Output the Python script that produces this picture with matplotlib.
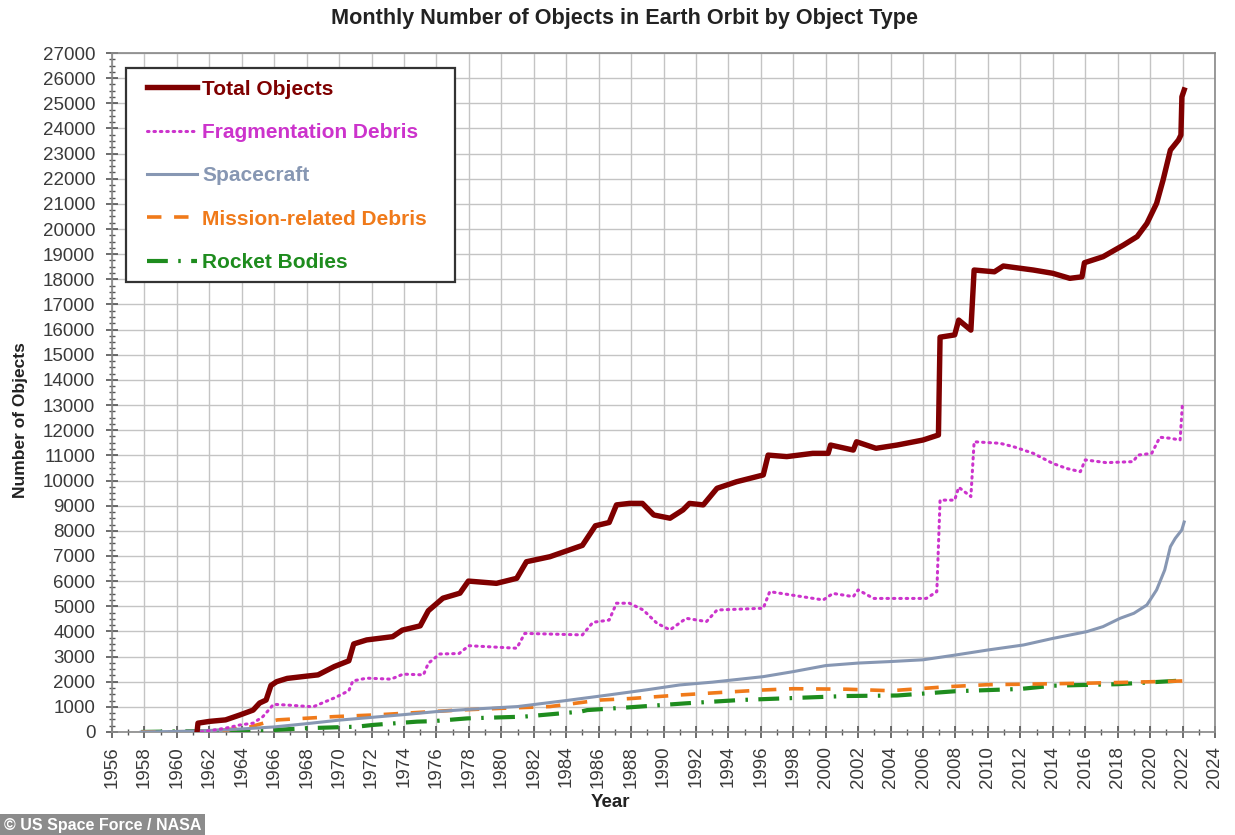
import matplotlib
matplotlib.use('Agg')
import matplotlib.pyplot as plt
from matplotlib.ticker import MultipleLocator
from matplotlib.patches import Rectangle

plt.rcParams['font.family'] = ['Liberation Sans', 'DejaVu Sans']

# Total objects
tot_year = [1961.25, 1961.3, 1962.0, 1963.0, 1963.9, 1964.7, 1965.1, 1965.5, 1965.8, 1966.15,
            1966.8, 1968.0, 1968.7, 1969.7, 1970.6, 1970.9, 1971.7, 1973.3, 1973.9, 1975.0,
            1975.5, 1976.4, 1977.45, 1977.97, 1979.7, 1980.95, 1981.55, 1983.0, 1985.0, 1985.8,
            1986.65, 1987.1, 1987.9, 1988.7, 1989.4, 1990.4, 1991.2, 1991.6, 1992.45, 1993.3,
            1994.5, 1996.15, 1996.45, 1997.6, 1999.2, 2000.15, 2000.3, 2001.7, 2001.9, 2003.1,
            2004.4, 2006.0, 2006.95, 2007.05, 2007.95, 2008.2, 2008.95, 2009.15, 2010.4, 2010.95,
            2012.8, 2014.0, 2015.05, 2015.8, 2015.95, 2017.1, 2018.35, 2019.2, 2019.8, 2020.4,
            2020.8, 2021.25, 2021.75, 2021.9, 2021.96, 2022.1]
tot_val = [50, 350, 420, 480, 680, 870, 1150, 1270, 1850, 2000,
           2130, 2220, 2270, 2600, 2830, 3500, 3660, 3790, 4050, 4220,
           4820, 5320, 5520, 6000, 5910, 6110, 6770, 6970, 7420, 8200,
           8330, 9030, 9090, 9090, 8630, 8500, 8830, 9090, 9030, 9690,
           9950, 10220, 11010, 10950, 11080, 11080, 11410, 11210, 11540, 11280,
           11410, 11610, 11810, 15700, 15790, 16380, 15980, 18370, 18300, 18530,
           18370, 18240, 18040, 18100, 18660, 18900, 19360, 19700, 20220, 21020,
           21950, 23140, 23540, 23740, 25260, 25530]

# Fragmentation debris
frag_year = [1961.5, 1963.0, 1963.9, 1964.7, 1965.3, 1965.75, 1965.95, 1966.8, 1968.4, 1969.8,
             1970.6, 1970.85, 1971.7, 1973.2, 1973.95, 1975.2, 1975.5, 1976.2, 1977.4, 1978.0,
             1980.95, 1981.45, 1985.0, 1985.65, 1986.65, 1987.1, 1987.9, 1988.75, 1989.6, 1990.4,
             1991.4, 1992.65, 1993.3, 1996.15, 1996.55, 1999.85, 2000.45, 2001.7, 2002.0, 2002.95,
             2006.2, 2006.85, 2007.05, 2007.95, 2008.2, 2008.95, 2009.15, 2010.75, 2011.6, 2012.8,
             2014.0, 2014.85, 2015.7, 2016.0, 2017.3, 2018.95, 2019.25, 2020.1, 2020.6, 2021.25,
             2021.85, 2022.0]
frag_val = [0, 150, 280, 350, 610, 940, 1100, 1070, 1000, 1380,
            1640, 2030, 2140, 2100, 2300, 2270, 2730, 3100, 3120, 3430,
            3330, 3920, 3860, 4360, 4450, 5120, 5120, 4850, 4320, 4060,
            4520, 4390, 4850, 4920, 5580, 5250, 5510, 5380, 5650, 5310,
            5310, 5580, 9220, 9220, 9730, 9360, 11540, 11480, 11340, 11080,
            10680, 10480, 10350, 10820, 10710, 10750, 11010, 11080, 11720, 11680,
            11610, 13130]

# Spacecraft
sc_year = [1957.8, 1960, 1962, 1964, 1966, 1968, 1970, 1972, 1974, 1976,
           1978, 1981, 1984, 1986.6, 1989, 1991, 1993, 1996.15, 1998, 2000,
           2002, 2004, 2006, 2008, 2010, 2012.2, 2014, 2016.1, 2017.1, 2018.15,
           2019, 2019.8, 2020.4, 2020.9, 2021.25, 2021.55, 2021.95, 2022.1]
sc_val = [0, 20, 60, 120, 200, 330, 470, 580, 690, 810,
          900, 1010, 1250, 1470, 1680, 1870, 1980, 2200, 2400, 2640,
          2740, 2800, 2870, 3060, 3260, 3460, 3720, 3990, 4190, 4520,
          4720, 5050, 5650, 6440, 7370, 7700, 8030, 8350]

# Mission-related debris
mrd_year = [1957.8, 1961, 1963, 1964.5, 1965.5, 1966.2, 1969.7, 1972.3, 1975, 1977.3,
            1980, 1983, 1986.1, 1988, 1991, 1993.5, 1996.15, 1998, 2001.3, 2004,
            2007.5, 2010, 2012.2, 2016.1, 2019, 2022.1]
mrd_val = [0, 10, 80, 200, 380, 480, 610, 680, 780, 870,
           940, 1010, 1270, 1330, 1470, 1570, 1670, 1720, 1700, 1640,
           1800, 1880, 1900, 1940, 1980, 2030]

# Rocket bodies
rb_year = [1957.8, 1961, 1964, 1966, 1968, 1971.1, 1972.1, 1974.8, 1975.8, 1977.9,
           1981.4, 1984.9, 1985.3, 1987.9, 1991.4, 1994.7, 1997.6, 2001.3, 2004.4, 2008,
           2012, 2014, 2018, 2022.1]
rb_val = [0, 30, 50, 80, 150, 210, 280, 410, 430, 540,
          610, 810, 870, 980, 1140, 1270, 1340, 1430, 1450, 1620,
          1710, 1840, 1900, 2050]

c_tot = '#7f0000'
c_frag = '#cc33cc'
c_sc = '#8797b3'
c_mrd = '#f07a1a'
c_rb = '#1e8c1e'

fig = plt.figure(figsize=(12.35, 8.35), dpi=100)
ax = fig.add_axes([0.0907, 0.1234, 0.8931, 0.8131])

ax.plot(rb_year, rb_val, color=c_rb, lw=3, dashes=(5, 2.5, 0.6, 2.5),
        label='Rocket Bodies', zorder=3)
ax.plot(mrd_year, mrd_val, color=c_mrd, lw=2.6, dashes=(4, 3.5),
        label='Mission-related Debris', zorder=3)
ax.plot(sc_year, sc_val, color=c_sc, lw=2.2, label='Spacecraft', zorder=4)
ax.plot(frag_year, frag_val, color=c_frag, lw=2.2, linestyle=(0, (0.5, 1.6)),
        dash_capstyle='round', label='Fragmentation Debris', zorder=5)
ax.plot(tot_year, tot_val, color=c_tot, lw=3.9, label='Total Objects', zorder=6)

ax.set_xlim(1956, 2024)
ax.set_ylim(0, 27000)
ax.xaxis.set_major_locator(MultipleLocator(2))
ax.xaxis.set_minor_locator(MultipleLocator(1))
ax.yaxis.set_major_locator(MultipleLocator(1000))
ax.yaxis.set_minor_locator(MultipleLocator(250))
ax.grid(True, which='major', color='#c4c4c4', lw=1.0, zorder=0)
ax.set_axisbelow(True)

ax.tick_params(axis='both', which='major', direction='inout', length=8, width=1.2,
               color='#555555', labelsize=13.5, labelcolor='#3a3a3a')
ax.tick_params(axis='both', which='minor', direction='inout', length=5, width=1,
               color='#555555')
ax.tick_params(axis='x', which='major', labelrotation=90, pad=6)
ax.tick_params(axis='y', which='major', pad=8)
for s in ax.spines.values():
    s.set_color('#888888')
    s.set_linewidth(1.2)

ax.set_xlabel('Year', fontsize=13.5, fontweight='bold', color='#222222')
ax.xaxis.set_label_coords(0.4515, -0.092)
ax.set_ylabel('Number of Objects', fontsize=12.5, fontweight='bold', color='#222222')
ax.yaxis.set_label_coords(-0.0762, 0.4595)

fig.text(0.506, 0.978, 'Monthly Number of Objects in Earth Orbit by Object Type',
         ha='center', va='center', fontsize=15.6, fontweight='bold', color='#222222')

# legend box drawn separately so its padding matches the original
ax.add_patch(Rectangle((0.0127, 0.6627), 0.2983, 0.3152, transform=ax.transAxes,
                       facecolor='white', edgecolor='#333333', lw=1.6, zorder=7))
handles, labels = ax.get_legend_handles_labels()
handles = handles[::-1]
labels = labels[::-1]
leg = ax.legend(handles, labels, loc='upper left', bbox_to_anchor=(0.0317, 0.9608),
                borderaxespad=0, borderpad=0, frameon=False, handlelength=2.4,
                handletextpad=0.25, labelspacing=1.17,
                prop={'size': 15, 'weight': 'bold'})
leg.set_zorder(8)
for txt, col in zip(leg.get_texts(), [c_tot, c_frag, c_sc, c_mrd, c_rb]):
    txt.set_color(col)

fig.text(0.003, 0.011, '\u00a9 US Space Force / NASA', ha='left', va='center',
         fontsize=11.5, fontweight='bold', color='white',
         bbox=dict(boxstyle='square,pad=0.25', facecolor='#8c8c8c', edgecolor='none'))

fig.savefig('out.png', dpi=100)
plt.close(fig)
